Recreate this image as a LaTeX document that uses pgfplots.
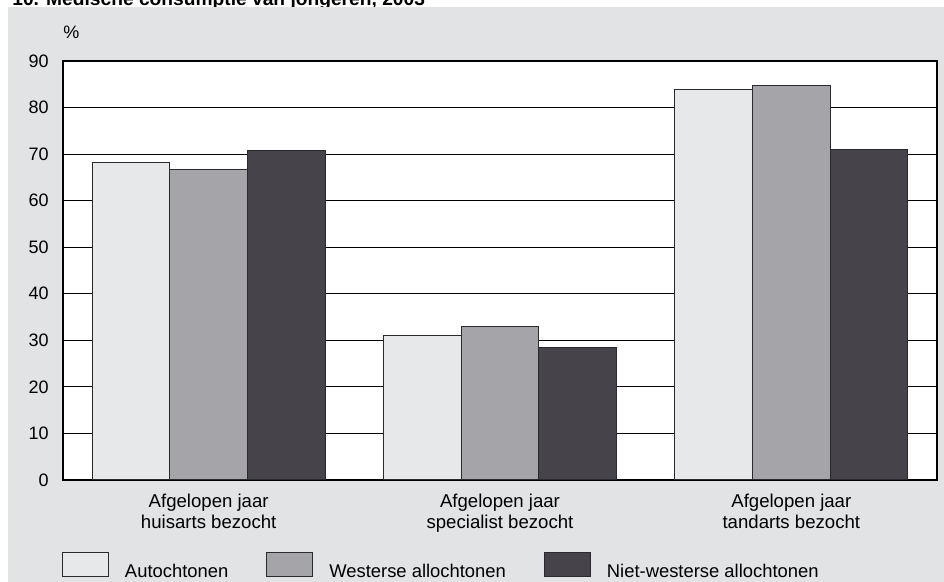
\documentclass[border=0pt]{standalone}
\usepackage{fontspec}
\setmainfont{Liberation Sans}
\usepackage{pgfplots}
\pgfplotsset{compat=1.18}
\definecolor{bg}{HTML}{E2E3E5}
\definecolor{cA}{HTML}{E7E8EA}
\definecolor{cB}{HTML}{A5A4A8}
\definecolor{cC}{HTML}{46434A}
\definecolor{edge}{HTML}{2A292D}
\begin{document}
\begin{tikzpicture}
\path[use as bounding box] (-31.5pt,-51pt) rectangle (440.5pt,240pt);
\node[anchor=base west, inner sep=0pt, font=\fontsize{9.6}{11}\selectfont\bfseries] at (-25.5pt,237pt) {10. Medische consumptie van jongeren, 2003};
\fill[bg] (-27.5pt,-51pt) rectangle (440.5pt,236.4pt);
\node[anchor=base west, inner sep=0pt, font=\fontsize{9}{10}\selectfont] at (0pt,220.5pt) {\%};
\begin{axis}[
  at={(0,0)}, anchor=south west, scale only axis,
  width=437pt, height=209.5pt,
  xmin=-0.5, xmax=2.5, ymin=0, ymax=90,
  ytick={0,10,...,90}, xtick={0,1,2},
  xticklabels={{Afgelopen jaar\\huisarts bezocht},{Afgelopen jaar\\specialist bezocht},{Afgelopen jaar\\tandarts bezocht}},
  ybar=0pt, bar width=38.85pt,
  axis background/.style={fill=white},
  ymajorgrids, grid style={black, line width=0.6pt},
  major tick length=0pt,
  axis line style={black, line width=0.8pt},
  /pgf/number format/assume math mode=true,
  yticklabel style={inner sep=0pt, xshift=-7pt, font=\fontsize{9}{10}\selectfont},
  xticklabel style={align=center, inner sep=0pt, anchor=north, yshift=-7pt, font=\fontsize{9.3}{10.2}\selectfont},
  legend columns=3,
  legend image code/.code={\draw[#1] (0pt,0pt) rectangle (23pt,12pt);},
  legend style={draw=none, fill=none, inner sep=0pt, outer sep=0pt,
    at={(0,0)}, anchor=north west, xshift=-0.5pt, yshift=-36pt,
    font=\fontsize{9.2}{10}\selectfont,
    nodes={inner sep=0pt, yshift=2pt},
    /tikz/every odd column/.append style={column sep=8pt},
    /tikz/every even column/.append style={column sep=19pt}},
]
\addplot[fill=cA, draw=edge, line width=0.5pt] coordinates {(0,68.3) (1,31.1) (2,83.8)};
\addplot[fill=cB, draw=edge, line width=0.5pt] coordinates {(0,66.7) (1,33.0) (2,84.8)};
\addplot[fill=cC, draw=edge, line width=0.5pt] coordinates {(0,70.7) (1,28.4) (2,70.9)};
\legend{Autochtonen, Westerse allochtonen, Niet-westerse allochtonen}
\end{axis}
\end{tikzpicture}
\end{document}
